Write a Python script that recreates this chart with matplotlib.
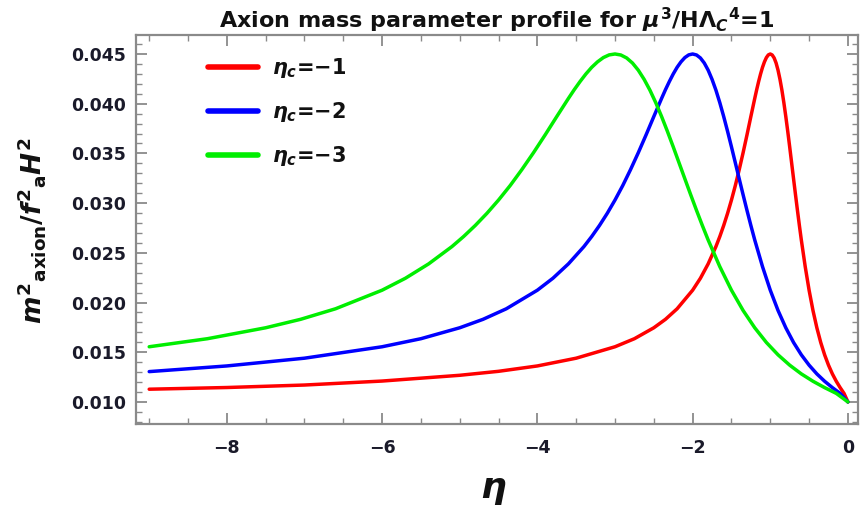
import matplotlib
matplotlib.use("Agg")
import matplotlib.pyplot as plt
from matplotlib.ticker import MultipleLocator, FixedLocator

plt.rcParams['font.family'] = ['DejaVu Sans']
plt.rcParams['mathtext.fontset'] = 'custom'
plt.rcParams['mathtext.rm'] = 'DejaVu Sans:bold'
plt.rcParams['mathtext.bf'] = 'DejaVu Sans:bold'
plt.rcParams['mathtext.it'] = 'DejaVu Sans:italic:bold'
plt.rcParams['mathtext.sf'] = 'DejaVu Sans:bold'

# ---- data ----
eta_red = [-9, -8, -7, -6, -5, -4.5, -4, -3.5, -3, -2.75, -2.5, -2.35, -2.2, -2,
           -1.9, -1.8, -1.7, -1.65, -1.6, -1.55, -1.5, -1.45, -1.4, -1.35,
           -1.3, -1.25, -1.2, -1.175, -1.15, -1.125, -1.1, -1.075, -1.05, -1.025,
           -1, -0.975, -0.95, -0.925, -0.9, -0.875, -0.85, -0.825, -0.8, -0.775, -0.75,
           -0.725, -0.7, -0.675, -0.65, -0.625, -0.6, -0.55, -0.5, -0.45, -0.4,
           -0.35, -0.3, -0.25, -0.2, -0.15, -0.1, -0.05, 0]
m2_red = [0.01128, 0.01145, 0.01170, 0.01210, 0.01268, 0.01308, 0.01362, 0.01440, 0.01555,
          0.01636, 0.01746, 0.01831, 0.01937, 0.02124, 0.02244, 0.02389, 0.02563, 0.02664,
          0.02775, 0.02897, 0.03031, 0.03177, 0.03337, 0.03507, 0.03686, 0.03871, 0.04053,
          0.04141, 0.04223, 0.04299, 0.04366, 0.04421, 0.04464, 0.04491, 0.04500, 0.04490,
          0.04460, 0.04409, 0.04337, 0.04245, 0.04136, 0.04010, 0.03871, 0.03722, 0.03566,
          0.03405, 0.03244, 0.03084, 0.02927, 0.02775, 0.02629, 0.02361, 0.02124, 0.01920,
          0.01746, 0.01598, 0.01474, 0.01370, 0.01282, 0.01208, 0.01144, 0.01086, 0.01000]

eta_blue = [-9, -8, -7, -6, -5.5, -5, -4.7, -4.4, -4, -3.8, -3.6, -3.4, -3.3, -3.2,
            -3.1, -3, -2.9, -2.8, -2.7, -2.6, -2.5, -2.4, -2.35, -2.3, -2.25, -2.2,
            -2.15, -2.1, -2.05, -2, -1.95, -1.9, -1.85, -1.8, -1.75, -1.7, -1.65, -1.6,
            -1.55, -1.5, -1.45, -1.4, -1.35, -1.3, -1.25, -1.2, -1.1, -1, -0.9, -0.8,
            -0.7, -0.6, -0.5, -0.4, -0.3, -0.2, -0.1, 0]
m2_blue = [0.01305, 0.01362, 0.01440, 0.01555, 0.01636, 0.01746, 0.01831, 0.01937, 0.02124,
           0.02244, 0.02389, 0.02563, 0.02664, 0.02775, 0.02897, 0.03031, 0.03177, 0.03337,
           0.03507, 0.03686, 0.03871, 0.04053, 0.04141, 0.04223, 0.04299, 0.04366, 0.04421,
           0.04464, 0.04491, 0.04500, 0.04490, 0.04460, 0.04409, 0.04337, 0.04245, 0.04136,
           0.04010, 0.03871, 0.03722, 0.03566, 0.03405, 0.03244, 0.03084, 0.02927, 0.02775,
           0.02629, 0.02361, 0.02124, 0.01920, 0.01746, 0.01598, 0.01474, 0.01370, 0.01282,
           0.01208, 0.01144, 0.01086, 0.01000]

eta_green = [-9, -8.25, -7.5, -7.05, -6.6, -6, -5.7, -5.4, -5.1, -4.95, -4.8,
             -4.65, -4.5, -4.35, -4.2, -4.05, -3.9, -3.75, -3.6, -3.525, -3.45,
             -3.375, -3.3, -3.225, -3.15, -3.075, -3, -2.925, -2.85, -2.775, -2.7, -2.625,
             -2.55, -2.475, -2.4, -2.325, -2.25, -2.175, -2.1, -2.025, -1.95, -1.875,
             -1.8, -1.65, -1.5, -1.35, -1.2, -1.05, -0.9, -0.75, -0.6, -0.45,
             -0.3, -0.15, 0]
m2_green = [0.01555, 0.01636, 0.01746, 0.01831, 0.01937, 0.02124, 0.02244, 0.02389, 0.02563,
            0.02664, 0.02775, 0.02897, 0.03031, 0.03177, 0.03337, 0.03507, 0.03686, 0.03871,
            0.04053, 0.04141, 0.04223, 0.04299, 0.04366, 0.04421, 0.04464, 0.04491, 0.04500,
            0.04490, 0.04460, 0.04409, 0.04337, 0.04245, 0.04136, 0.04010, 0.03871, 0.03722,
            0.03566, 0.03405, 0.03244, 0.03084, 0.02927, 0.02775, 0.02629, 0.02361, 0.02124,
            0.01920, 0.01746, 0.01598, 0.01474, 0.01370, 0.01282, 0.01208, 0.01144, 0.01086,
            0.01000]

labels = [r'$\eta_c$=−1', r'$\eta_c$=−2', r'$\eta_c$=−3']
colors = ['#ff0000', '#0000ff', '#00ee00']
x_ticks = [-8, -6, -4, -2, 0]
x_ticklabels = ['−8', '−6', '−4', '−2', '0']
y_ticks = [0.010, 0.015, 0.020, 0.025, 0.030, 0.035, 0.040, 0.045]
y_ticklabels = ['0.010', '0.015', '0.020', '0.025', '0.030', '0.035', '0.040', '0.045']

# ---- figure ----
fig = plt.figure(figsize=(8.66, 5.12), dpi=100)
ax = fig.add_axes([136/866, 1-424/512, (858-136)/866, (424-35)/512])

for xs, ys, c, lab in zip([eta_red, eta_blue, eta_green], [m2_red, m2_blue, m2_green], colors, labels):
    ax.plot(xs, ys, color=c, lw=2.5, label=lab, solid_joinstyle='round', solid_capstyle='round')

ax.set_xlim(-9.17, 0.13)
ax.set_ylim(0.00778, 0.04691)
ax.xaxis.set_major_locator(FixedLocator(x_ticks))
ax.xaxis.set_minor_locator(MultipleLocator(0.5))
ax.yaxis.set_major_locator(FixedLocator(y_ticks))
ax.yaxis.set_minor_locator(MultipleLocator(0.001))
ax.set_xticklabels(x_ticklabels)
ax.set_yticklabels(y_ticklabels)

frame_col = '#8a8a8a'
for s in ax.spines.values():
    s.set_color(frame_col)
    s.set_linewidth(1.6)
ax.tick_params(which='both', direction='in', top=True, right=True, color=frame_col,
               labelcolor='#1a1a2a')
ax.tick_params(which='major', length=8, width=1.3, labelsize=12.5)
ax.tick_params(axis='x', which='major', pad=11)
ax.tick_params(axis='y', which='major', pad=7)
ax.tick_params(which='minor', length=4.5, width=1.0)
for t in ax.get_xticklabels() + ax.get_yticklabels():
    t.set_fontweight('bold')

ax.set_title(r'Axion mass parameter profile for $\mu^3$/H$\Lambda_C{}^4$=1',
             fontsize=16, fontweight='bold', pad=4, color='#111111')

fig.text(32/866, 1-230/512, r'$m^2{}_{\rm axion}/f^2{}_{\rm a}H^2$', rotation=90,
         ha='center', va='center', fontsize=19, color='#111111')
fig.text(493/866, 1-490/512, r'$\eta$', ha='center', va='center', fontsize=26, color='#111111')

leg = ax.legend(loc='upper left', bbox_to_anchor=(0.0997, 0.946), frameon=False,
                borderpad=0, borderaxespad=0,
                prop={'family': 'DejaVu Sans', 'weight': 'bold', 'size': 15},
                handlelength=2.4, handletextpad=0.67, labelspacing=0.97)
for line in leg.get_lines():
    line.set_linewidth(4)
for t in leg.get_texts():
    t.set_color('#111111')

fig.savefig('out.png', dpi=100)
